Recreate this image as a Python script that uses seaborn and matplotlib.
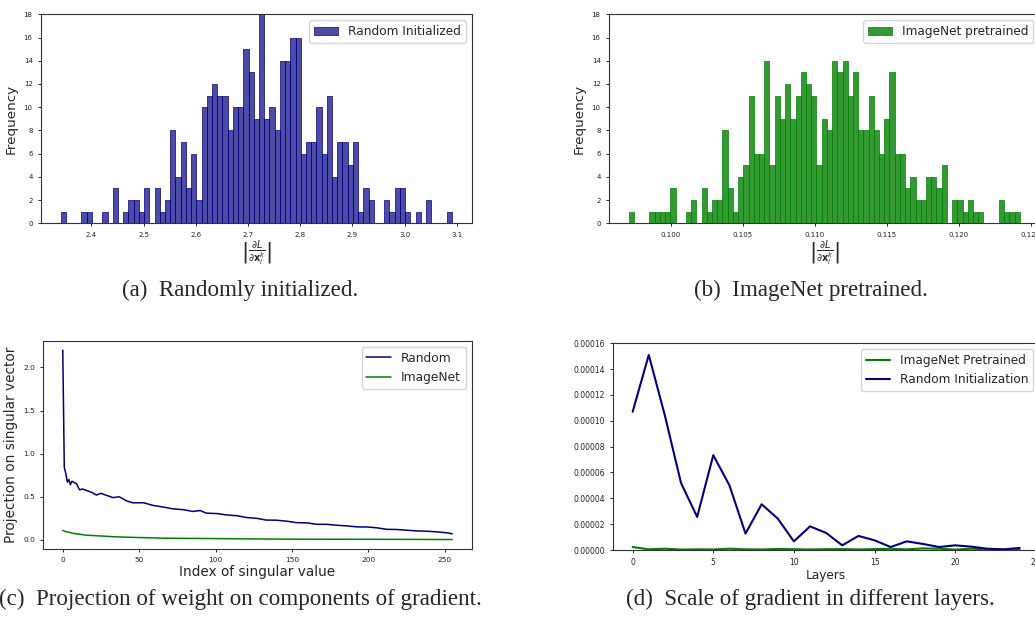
import numpy as np
import pandas as pd
import matplotlib
matplotlib.use('Agg')
import matplotlib.pyplot as plt
from matplotlib.ticker import FormatStrFormatter
import seaborn as sns

# (a) gradient scale histogram, random init (75 bins)
random_bin_start = 2.341
random_bin_width = 0.01
random_counts = [1, 0, 0, 0, 1, 1, 0, 0, 1, 0,
                 3, 0, 1, 2, 2, 1, 3, 0, 3, 1,
                 2, 8, 4, 7, 3, 6, 2, 10, 11, 12,
                 11, 11, 8, 10, 10, 15, 13, 9, 18, 9,
                 10, 8, 14, 14, 16, 16, 6, 7, 7, 10,
                 6, 11, 4, 7, 7, 5, 7, 1, 3, 2,
                 0, 0, 2, 1, 3, 3, 1, 0, 1, 0,
                 2, 0, 0, 0, 1]

# (b) gradient scale histogram, imagenet pretrained
imagenet_bin_start = 0.09708
imagenet_bin_width = 0.0003624
imagenet_counts = [1, 0, 0, 0, 1, 1, 1, 1, 3, 0,
                   0, 1, 2, 0, 3, 1, 2, 2, 8, 3,
                   1, 4, 5, 11, 6, 6, 14, 5, 11, 9,
                   12, 9, 11, 13, 12, 11, 5, 9, 8, 14,
                   13, 14, 11, 13, 8, 8, 11, 8, 6, 9,
                   13, 6, 6, 3, 4, 2, 2, 4, 4, 3,
                   5, 0, 2, 2, 1, 2, 1, 1, 0, 0,
                   0, 2, 1, 1, 1]

# (c) projection of weight on singular vectors of the gradient
proj_random_idx = [0, 1, 2, 3, 4, 5, 6, 8, 9, 11,
                   13, 16, 19, 22, 25, 28, 33, 37, 42, 46,
                   53, 59, 66, 72, 79, 85, 90, 94, 101, 107,
                   114, 120, 127, 133, 140, 147, 153, 160, 166, 173,
                   179, 186, 193, 199, 206, 212, 219, 225, 232, 239,
                   245, 252, 255]
proj_random_val = [2.20, 0.84, 0.77, 0.67, 0.70, 0.64, 0.68, 0.66, 0.65, 0.58,
                   0.59, 0.57, 0.55, 0.52, 0.54, 0.52, 0.49, 0.50, 0.45, 0.43,
                   0.43, 0.40, 0.38, 0.36, 0.35, 0.33, 0.34, 0.31, 0.305, 0.29,
                   0.28, 0.26, 0.25, 0.23, 0.228, 0.216, 0.20, 0.197, 0.181, 0.18,
                   0.17, 0.162, 0.15, 0.15, 0.139, 0.123, 0.12, 0.112, 0.104, 0.10,
                   0.093, 0.081, 0.07]
proj_imagenet_idx = [0, 2, 4, 7, 10, 15, 20, 25, 35, 50, 68, 100, 125, 150, 200, 255]
proj_imagenet_val = [0.11, 0.095, 0.088, 0.075, 0.068, 0.055, 0.05, 0.045,
                     0.035, 0.027, 0.019, 0.015, 0.011, 0.008, 0.007, 0.004]

# (d) gradient scale per layer
layers = list(range(25))
grad_imagenet = [2.3e-6, 0.5e-6, 1.0e-6, 0.3e-6, 0.5e-6, 0.4e-6, 1.0e-6, 0.5e-6,
                 0.4e-6, 0.8e-6, 0.6e-6, 0.4e-6, 0.6e-6, 0.7e-6, 0.4e-6, 0.7e-6,
                 0.9e-6, 0.5e-6, 1.2e-6, 1.0e-6, 0.3e-6, 1.0e-6, 0.6e-6, 0.2e-6,
                 0.5e-6]
grad_random = [1.07e-4, 1.51e-4, 1.04e-4, 5.19e-5, 2.56e-5, 7.34e-5, 5.01e-5,
               1.27e-5, 3.54e-5, 2.43e-5, 6.7e-6, 1.83e-5, 1.32e-5, 3.6e-6,
               1.09e-5, 7.5e-6, 2.3e-6, 6.7e-6, 4.7e-6, 2.3e-6, 3.6e-6, 2.6e-6,
               1.0e-6, 0.5e-6, 1.6e-6]

W, H = 1035, 617


def px_axes(fig, left, top, right, bottom):
    # axes rectangle given in picture pixels
    return fig.add_axes([left / W, 1 - bottom / H, (right - left) / W, (bottom - top) / H])


def style_axes(ax, tick_size):
    for s in ax.spines.values():
        s.set_color('#333333')
        s.set_linewidth(0.8)
    ax.tick_params(labelsize=tick_size, length=2.5, width=0.7, colors='#222222')


def plot_hist(ax, start, width, counts, color, alpha, label):
    edges = start + width * np.arange(len(counts) + 1)
    df = pd.DataFrame({'x': (edges[:-1] + edges[1:]) / 2, 'w': counts})
    sns.histplot(data=df, x='x', weights='w', bins=list(edges), color=color, alpha=alpha,
                 linewidth=0.5, edgecolor=color, label=label, ax=ax)
    ax.set_ylim(0, 18)
    ax.set_yticks(range(0, 19, 2))
    ax.set_ylabel('Frequency', fontsize=9.7)
    ax.set_xlabel(r'$\left|\frac{\partial L}{\partial \mathbf{x}_i^k}\right|$', fontsize=10,
                  labelpad=1)
    ax.legend(loc='upper right', fontsize=8.7)
    style_axes(ax, 5)


def main():
    sns.set_style('ticks')
    plt.rcParams['font.family'] = ['DejaVu Sans']
    fig = plt.figure(figsize=(W / 100, H / 100), dpi=100)

    ax1 = px_axes(fig, 41, 14.3, 471.7, 223.3)
    plot_hist(ax1, random_bin_start, random_bin_width, random_counts,
              'navy', 0.7, 'Random Initialized')

    ax2 = px_axes(fig, 609, 14.3, 1039.5, 223.3)
    plot_hist(ax2, imagenet_bin_start, imagenet_bin_width, imagenet_counts,
              'green', 0.8, 'ImageNet pretrained')

    ax3 = px_axes(fig, 43.3, 340.7, 471.7, 549)
    sns.lineplot(x=proj_random_idx, y=proj_random_val, color='navy', lw=1.1,
                 label='Random', ax=ax3)
    sns.lineplot(x=proj_imagenet_idx, y=proj_imagenet_val, color='green', lw=1.1,
                 label='ImageNet', ax=ax3)
    ax3.set_xlabel('Index of singular value', fontsize=9.8, labelpad=1)
    ax3.set_ylabel('Projection on singular vector', fontsize=9.8)
    ax3.legend(loc='upper right', fontsize=8.8)
    style_axes(ax3, 5.3)

    ax4 = px_axes(fig, 613.3, 343.3, 1039, 550)
    sns.lineplot(x=layers, y=grad_imagenet, color='green', lw=1.5,
                 label='ImageNet Pretrained', ax=ax4)
    sns.lineplot(x=layers, y=grad_random, color='navy', lw=1.5,
                 label='Random Initialization', ax=ax4)
    ax4.set_ylim(0, 0.00016)
    ax4.set_yticks(np.arange(0, 0.000161, 0.00002))
    ax4.yaxis.set_major_formatter(FormatStrFormatter('%.5f'))
    ax4.set_xticks(range(0, 26, 5))
    ax4.set_xlabel('Layers', fontsize=8.7, labelpad=1)
    ax4.legend(loc='upper right', fontsize=8.7)
    style_axes(ax4, 5.5)

    cap = dict(fontfamily='Liberation Serif', fontsize=16.6, ha='center', va='center')
    fig.text(240 / W, 1 - 290 / H, '(a)  Randomly initialized.', **cap)
    fig.text(811 / W, 1 - 290 / H, '(b)  ImageNet pretrained.', **cap)
    fig.text(240 / W, 1 - 599 / H, '(c)  Projection of weight on components of gradient.', **cap)
    fig.text(810 / W, 1 - 599 / H, '(d)  Scale of gradient in different layers.', **cap)

    fig.savefig('out.png', dpi=100)


if __name__ == '__main__':
    main()
